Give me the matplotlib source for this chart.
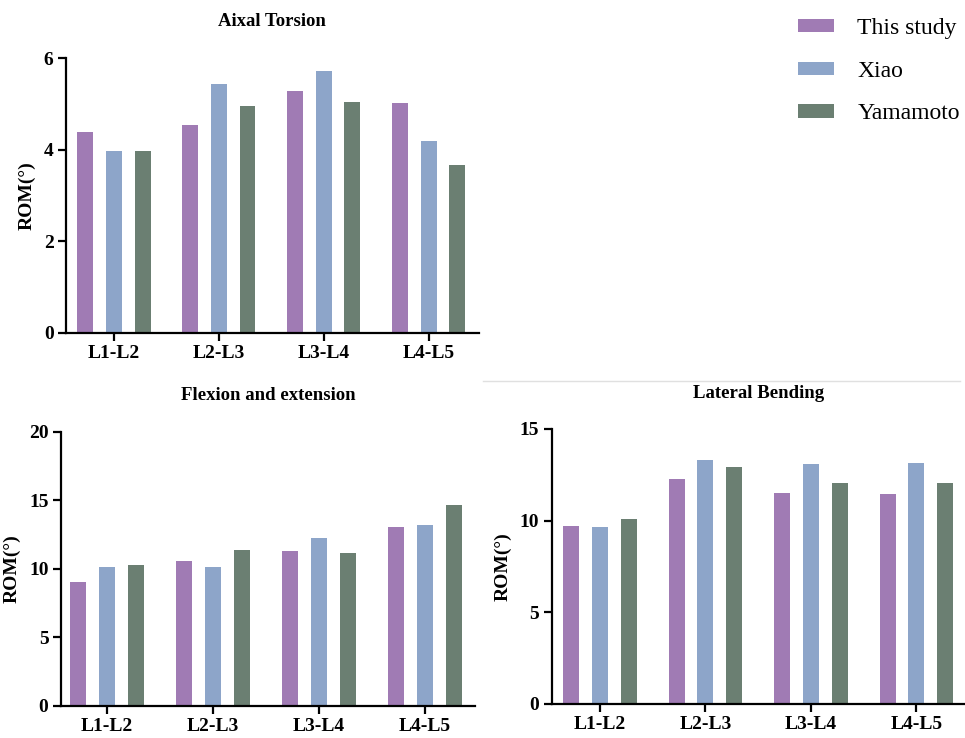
import matplotlib
matplotlib.use("Agg")
import matplotlib.pyplot as plt
import numpy as np
from matplotlib.lines import Line2D

plt.rcParams['font.family'] = ['Liberation Serif', 'DejaVu Serif']

# Data
levels = ["L1-L2", "L2-L3", "L3-L4", "L4-L5"]
series = ["This study", "Xiao", "Yamamoto"]
colors = ["#A07BB4", "#8DA5C9", "#6B7F72"]

torsion_this = [4.38, 4.53, 5.28, 5.01]
torsion_xiao = [3.96, 5.43, 5.71, 4.18]
torsion_yama = [3.96, 4.96, 5.04, 3.66]

flex_this = [9.02, 10.57, 11.28, 13.03]
flex_xiao = [10.16, 10.16, 12.23, 13.18]
flex_yama = [10.28, 11.38, 11.18, 14.66]

lat_this = [9.73, 12.26, 11.53, 11.45]
lat_xiao = [9.65, 13.33, 13.07, 13.13]
lat_yama = [10.07, 12.91, 12.07, 12.07]

fig = plt.figure(figsize=(9.65, 7.38), dpi=100)

ax1 = fig.add_axes([0.0684, 0.5488, 0.4276, 0.3726])
ax2 = fig.add_axes([0.0632, 0.0434, 0.4288, 0.3716])
ax3 = fig.add_axes([0.5717, 0.0461, 0.4283, 0.3726])

x = np.arange(len(levels))
width = 0.152
offset = 0.273


def draw(ax, vals, title, ylim, yticks, xlim, pad):
    bars = []
    for i, v in enumerate(vals):
        b = ax.bar(x + (i - 1) * offset, v, width, color=colors[i],
                   edgecolor='none', label=series[i])
        bars.append(b)
    ax.set_xlim(*xlim)
    ax.set_ylim(*ylim)
    ax.set_yticks(yticks)
    ax.set_xticks(x)
    ax.set_xticklabels(levels, fontsize=14, fontweight='bold')
    ax.set_yticklabels([str(t) for t in yticks], fontsize=14, fontweight='bold')
    ax.set_ylabel("ROM(°)", fontsize=14, fontweight='bold', labelpad=6)
    ax.set_title(title, fontsize=13.5, fontweight='bold', pad=pad)
    for s in ['top', 'right']:
        ax.spines[s].set_visible(False)
    for s in ['left', 'bottom']:
        ax.spines[s].set_linewidth(1.6)
    ax.tick_params(axis='both', width=1.6, length=6, pad=3)
    return bars


bars = draw(ax1, [torsion_this, torsion_xiao, torsion_yama], "Aixal Torsion",
            (0, 6), [0, 2, 4, 6], (-0.457, 3.476), 23)
draw(ax2, [flex_this, flex_xiao, flex_yama], "Flexion and extension",
     (0, 20), [0, 5, 10, 15, 20], (-0.434, 3.47), 23)
draw(ax3, [lat_this, lat_xiao, lat_yama], "Lateral Bending",
     (0, 15), [0, 5, 10, 15], (-0.457, 3.46), 22)

fig.legend(bars, series, loc='upper left', bbox_to_anchor=(0.810, 0.998),
           frameon=False, prop={'size': 17}, handlelength=1.5,
           handleheight=0.5, handletextpad=1.0, labelspacing=0.92,
           borderaxespad=0.3)

# faint separator line above the lateral bending panel
fig.add_artist(Line2D([0.5, 0.995], [1 - 381 / 738, 1 - 381 / 738],
                      transform=fig.transFigure, color='#e0e0e0', lw=1))

fig.savefig("out.png", dpi=100)
